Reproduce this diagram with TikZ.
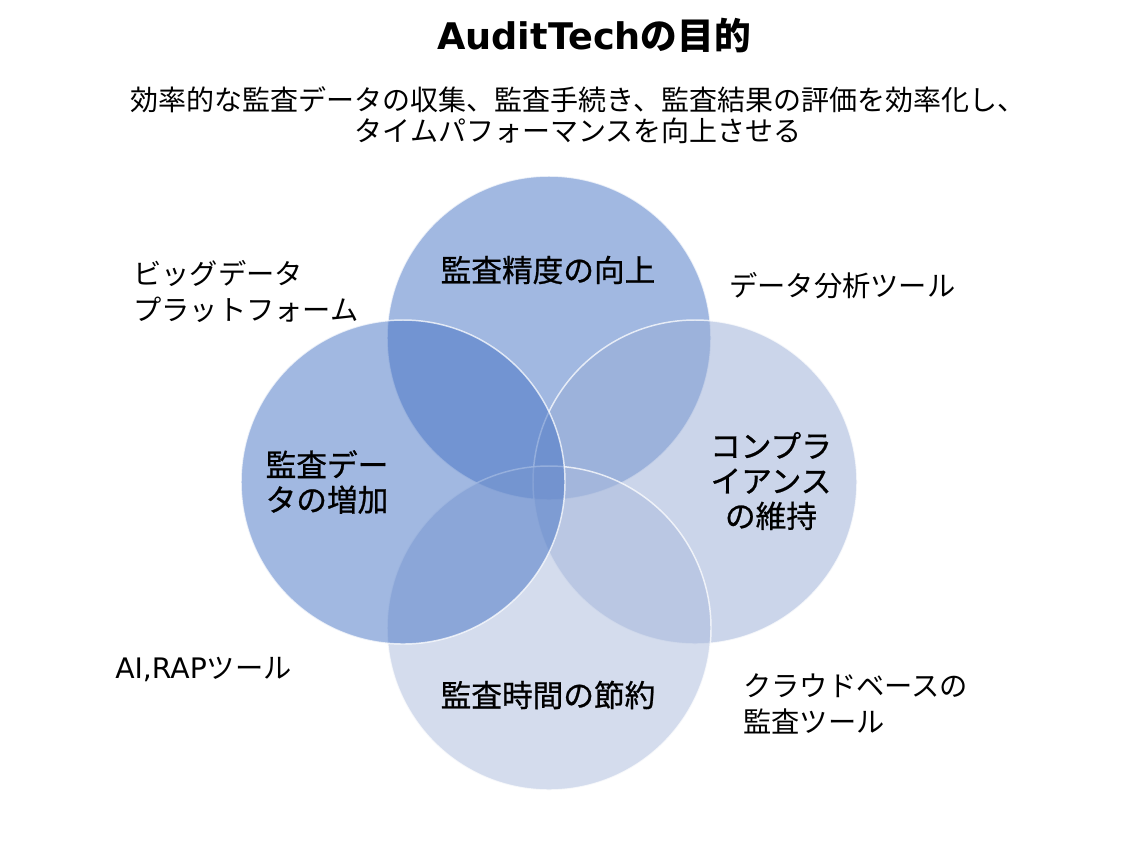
\documentclass[tikz,border=0pt]{standalone}
\usepackage{fontspec}
\setmainfont{Noto Sans CJK JP}
\newfontfamily\jp{Noto Sans CJK JP}
\newfontfamily\jpm{Noto Sans CJK JP}[FakeBold=0.8]
\newfontfamily\dv{DejaVu Sans}
\definecolor{cA}{HTML}{4472C4}
\definecolor{cR}{HTML}{99ADD7}
\definecolor{cB}{HTML}{ABBBDD}
\begin{document}
\begin{tikzpicture}[x=0.75pt,y=-0.75pt,
  venn/.style={circle,minimum size=324*0.75pt,inner sep=0pt,draw=white,line width=1.1pt,fill opacity=0.5,draw opacity=0.75},
  clabel/.style={inner sep=0pt,align=center,text=black,font=\jpm\fontsize{23}{26.25}\selectfont},
  olabel/.style={inner sep=0pt,align=left,anchor=west,text=black,font=\jp\fontsize{21.2}{27}\selectfont},
]
\path[fill=white] (0,0) rectangle (1134,851);
% circles: top, right, bottom, left
\node[venn,fill=cA] (ct) at (549,338) {};
\node[venn,fill=cR] (cr) at (695,482) {};
\node[venn,fill=cB] (cb) at (549,628) {};
\node[venn,fill=cA] (cl) at (403,482) {};
% title
\node[inner sep=0pt] (title) at (594,36) {\bfseries\fontsize{27.5}{30}\selectfont{\dv AuditTech}{\jp の目的}};
\node[inner sep=0pt,align=center,font=\jp\fontsize{21}{23}\selectfont] (sub) at (578,115)
  {効率的な監査データの収集、監査手続き、監査結果の評価を効率化し、\\タイムパフォーマンスを向上させる};
% circle labels
\node[clabel] (lt) at (548,270) {監査精度の向上};
\node[clabel] (lb) at (548,695) {監査時間の節約};
\node[clabel,align=left] (ll) at (327,482) {監査デー\\タの増加};
\node[clabel] (lr) at (771,481) {コンプラ\\イアンス\\の維持};
% outside labels
\node[olabel] (o1) at (133,292) {ビッグデータ\\プラットフォーム};
\node[olabel] (o2) at (729,286) {データ分析ツール};
\node[olabel] (o3) at (115,669) {{\dv AI,RAP}ツール};
\node[olabel] (o4) at (743,704) {クラウドベースの\\監査ツール};
\end{tikzpicture}
\end{document}
